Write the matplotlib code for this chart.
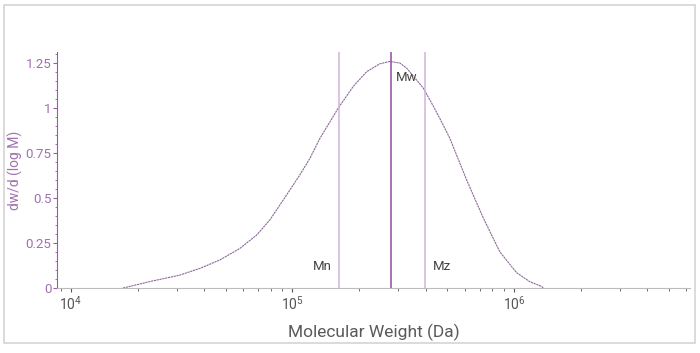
import matplotlib.pyplot as plt
from matplotlib.patches import Rectangle
from matplotlib.ticker import FixedLocator, LogLocator, NullFormatter

plt.rcParams['font.family'] = ['Roboto', 'DejaVu Sans']

# molecular weight distribution
mw = [1.717e4, 2.274e4, 3.105e4, 3.823e4, 4.707e4, 5.794e4, 6.893e4, 7.914e4,
      8.784e4, 9.743e4, 1.081e5, 1.2e5, 1.331e5, 1.61e5, 1.881e5, 2.163e5,
      2.483e5, 2.755e5, 3.057e5, 3.279e5, 3.895e5, 4.323e5, 4.635e5, 5.142e5,
      6.116e5, 7.268e5, 8.648e5, 1.029e6, 1.181e6, 1.334e6, 1.356e6]
dw = [0.0, 0.036, 0.072, 0.109, 0.156, 0.22, 0.294, 0.378,
      0.461, 0.544, 0.628, 0.72, 0.83, 0.998, 1.118, 1.2,
      1.244, 1.257, 1.248, 1.22, 1.11, 1.01, 0.94, 0.83,
      0.6, 0.39, 0.2, 0.085, 0.035, 0.009, 0.0]

averages = ['Mn', 'Mw', 'Mz']
avg_values = [1.62e5, 2.79e5, 3.96e5]

yticks = [0, 0.25, 0.5, 0.75, 1, 1.25]
ytick_labels = ['0', '0.25', '0.5', '0.75', '1', '1.25']

purple = '#9a5aa8'
grey = '#555555'

fig = plt.figure(figsize=(7, 3.53), dpi=100)
fig.patches.append(Rectangle((0.006, 0.028), 0.987, 0.957, transform=fig.transFigure,
                             fill=False, edgecolor='#d4d4d4', linewidth=1.2))
ax = fig.add_axes([0.0814, 0.184, 0.9043, 0.669])

ax.plot(mw, dw, color='#8a6a96', linewidth=0.8, linestyle=(0, (2, 0.6)))

line_colors = ['#d2b4da', '#8e4d9e', '#d2b4da']
for name, val, c in zip(averages, avg_values, line_colors):
    ax.axvline(val, color=c, linewidth=1.1)

ax.text(avg_values[0] * 0.93, 0.12, 'Mn', ha='right', va='center', fontsize=9.5, color='#444444')
ax.text(avg_values[1] * 1.05, 1.17, 'Mw', ha='left', va='center', fontsize=9.5, color='#444444')
ax.text(avg_values[2] * 1.09, 0.12, 'Mz', ha='left', va='center', fontsize=9.5, color='#444444')

ax.set_xscale('log')
ax.set_xlim(8.65e3, 6.24e6)
ax.set_ylim(0, 1.31)

ax.set_yticks(yticks)
ax.set_yticklabels(ytick_labels)
ax.yaxis.set_minor_locator(FixedLocator([0.05 * i for i in range(27)]))
ax.xaxis.set_minor_locator(LogLocator(base=10, subs=range(2, 10)))
ax.xaxis.set_minor_formatter(NullFormatter())

for s in ['top', 'right']:
    ax.spines[s].set_visible(False)
ax.spines['left'].set_color(purple)
ax.spines['bottom'].set_color('#bbbbbb')

ax.tick_params(axis='y', which='major', colors=purple, labelcolor='#a070b0', labelsize=9.5,
               length=3, pad=1)
ax.tick_params(axis='y', which='minor', colors=purple, length=1.5)
ax.tick_params(axis='x', which='major', colors='#555555', labelcolor=grey, labelsize=10,
               length=3, pad=2)
ax.tick_params(axis='x', which='minor', colors='#555555', length=2)

ax.set_ylabel('dw/d (log M)', color='#a070b0', fontsize=10)
ax.yaxis.set_label_coords(-0.053, 0.5)
ax.set_xlabel('Molecular Weight (Da)', color='#5a5a5a', fontsize=12.5, labelpad=8)

fig.savefig('out.png', dpi=100)
